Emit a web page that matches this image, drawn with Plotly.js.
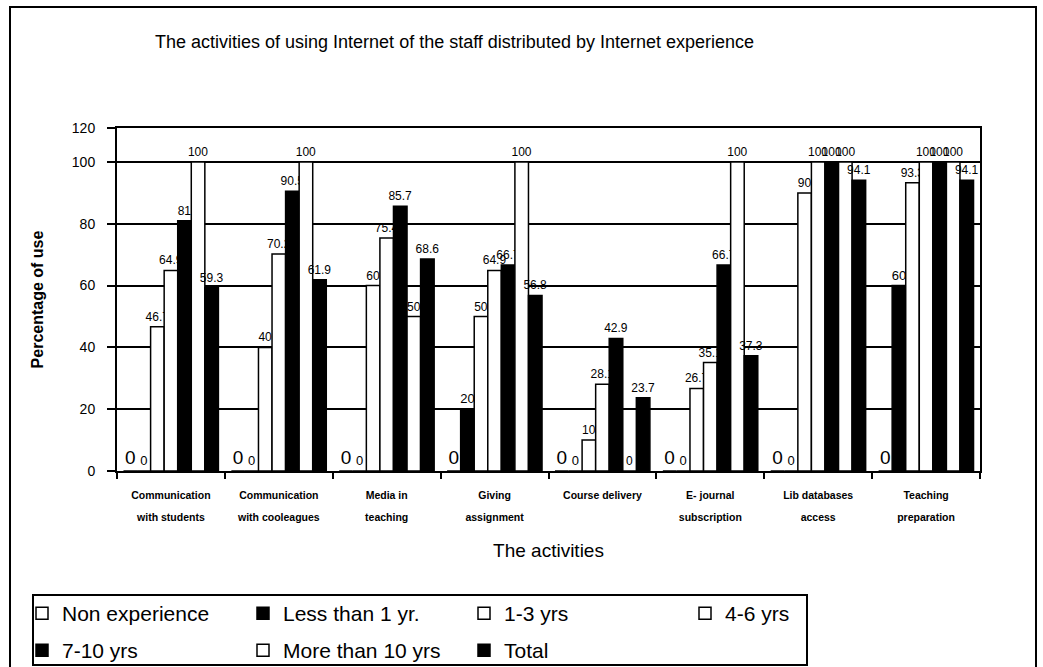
<!DOCTYPE html>
<html><head><meta charset="utf-8">
<script src="https://cdn.plot.ly/plotly-3.0.1.min.js"></script>
<style>
html,body{margin:0;padding:0;background:#fff;}
#chart{width:1043px;height:667px;}
#frame{position:absolute;left:9px;top:6px;width:1024px;height:670px;border:2px solid #000;pointer-events:none;}
</style></head>
<body>
<div id="chart"></div>
<div id="frame"></div>
<script>
const categoryLine1 = ["Communication","Communication","Media in","Giving","Course delivery","E- journal","Lib databases","Teaching"];
const categoryLine2 = ["with students","with cooleagues","teaching","assignment","","subscription","access","preparation"];
const categories = categoryLine1.map((a, i) => a + " " + categoryLine2[i]);
const seriesNames = ["Non experience","Less than 1 yr.","1-3 yrs","4-6 yrs","7-10 yrs","More than 10 yrs","Total"];
const nonExperience = [0, 0, 0, 0, 0, 0, 0, 0];
const lessThan1 = [0, 0, 0, 20, 0, 0, 0, 60];
const yrs1to3 = [46.7, 40, 60, 50, 10, 26.7, 90, 93.3];
const yrs4to6 = [64.9, 70.2, 75.4, 64.9, 28.1, 35.1, 100, 100];
const yrs7to10 = [81, 90.5, 85.7, 66.7, 42.9, 66.7, 100, 100];
const moreThan10 = [100, 100, 50, 100, 0, 100, 100, 100];
const total = [59.3, 61.9, 68.6, 56.8, 23.7, 37.3, 94.1, 94.1];
const yTickVals = [0, 20, 40, 60, 80, 100, 111];
const yTickText = ["0", "20", "40", "60", "80", "100", "120"];

const seriesValues = [nonExperience, lessThan1, yrs1to3, yrs4to6, yrs7to10, moreThan10, total];
const fills = ["#fff", "#000", "#fff", "#fff", "#000", "#fff", "#000"];
const labelSizes = [19, 13, 12, 12, 12, 12, 12];
const legendOf = ["legend", "legend", "legend", "legend", "legend2", "legend2", "legend2"];
const FONT = "Liberation Sans, Arial, sans-serif";

const traces = seriesValues.map((vals, i) => ({
  type: "bar",
  name: seriesNames[i],
  legend: legendOf[i],
  x: categories,
  y: vals,
  text: vals.map(v => String(v)),
  textposition: "outside",
  constraintext: "none",
  cliponaxis: false,
  textfont: {family: FONT, size: labelSizes[i], color: "#000000"},
  marker: {color: fills[i], line: {color: "#000", width: 1.5}},
  hoverinfo: "skip"
}));

const idx = categories.map((c, i) => i);
// empty helper trace so the second-line tick axis is drawn (draws no marks)
traces.push({type: "scatter", mode: "markers", x: [], y: [], xaxis: "x2", yaxis: "y",
             showlegend: false, hoverinfo: "skip"});

const PX = v => (v - 117) / 863;   // pixel x -> paper x
const PY = v => (471 - v) / 343;   // pixel y -> paper y

const legendBase = {
  orientation: "h", xanchor: "left", yanchor: "top",
  borderwidth: 0, bgcolor: "rgba(0,0,0,0)",
  font: {size: 21, color: "#000"},
  entrywidth: 176, entrywidthmode: "pixels",
  traceorder: "normal", itemwidth: 30
};

const layout = {
  width: 1043, height: 667,
  margin: {l: 117, r: 63, t: 128, b: 196, autoexpand: false},
  paper_bgcolor: "#fff", plot_bgcolor: "#fff",
  barmode: "group", bargap: 0.12, bargroupgap: 0,
  font: {family: FONT, color: "#000"},
  title: {text: "The activities of using Internet of the staff distributed by Internet experience",
          x: 155 / 1043, xanchor: "left", y: 1 - 42 / 667, yanchor: "middle",
          font: {size: 18, color: "#000"}},
  xaxis: {
    type: "category", automargin: false,
    showline: true, linecolor: "#000", linewidth: 2, mirror: true,
    ticks: "outside", tickson: "boundaries", ticklen: 6, tickwidth: 2, tickcolor: "#000",
    tickmode: "array", tickvals: categories, ticktext: categoryLine1,
    ticklabelstandoff: 13,
    tickfont: {size: 10.5, color: "#000", weight: "bold"},
    showgrid: false,
    title: {text: "The activities", font: {size: 19, color: "#000"}, standoff: 44}
  },
  xaxis2: {
    overlaying: "x", anchor: "y", side: "bottom", automargin: false,
    range: [-0.5, 7.5], autorange: false, showline: false, showgrid: false, zeroline: false,
    ticks: "", tickmode: "array", tickvals: idx, ticktext: categoryLine2,
    ticklabelstandoff: 38, showticklabels: true,
    tickfont: {size: 10.5, color: "#000", weight: "bold"}
  },
  yaxis: {
    range: [0, 111], automargin: false,
    tickvals: yTickVals, ticktext: yTickText,
    showline: true, linecolor: "#000", linewidth: 2, mirror: true,
    ticks: "outside", ticklen: 8, tickwidth: 2, tickcolor: "#000",
    ticklabelstandoff: 9,
    tickfont: {size: 14, color: "#000"},
    showgrid: true, gridcolor: "#000", gridwidth: 2,
    zeroline: false,
    title: {text: "<b>Percentage of use</b>", font: {size: 16, color: "#000"}, standoff: 24}
  },
  showlegend: true,
  legend: Object.assign({}, legendBase, {x: PX(22), y: PY(593)}),
  legend2: Object.assign({}, legendBase, {x: PX(22), y: PY(630)}),
  shapes: [{
    type: "rect", xref: "paper", yref: "paper",
    x0: PX(33), x1: PX(807), y0: PY(595), y1: PY(665),
    line: {color: "#000", width: 2}, fillcolor: "rgba(0,0,0,0)", layer: "below"
  }]
};

Plotly.newPlot("chart", traces, layout, {displayModeBar: false, staticPlot: true});
</script>
</body></html>
